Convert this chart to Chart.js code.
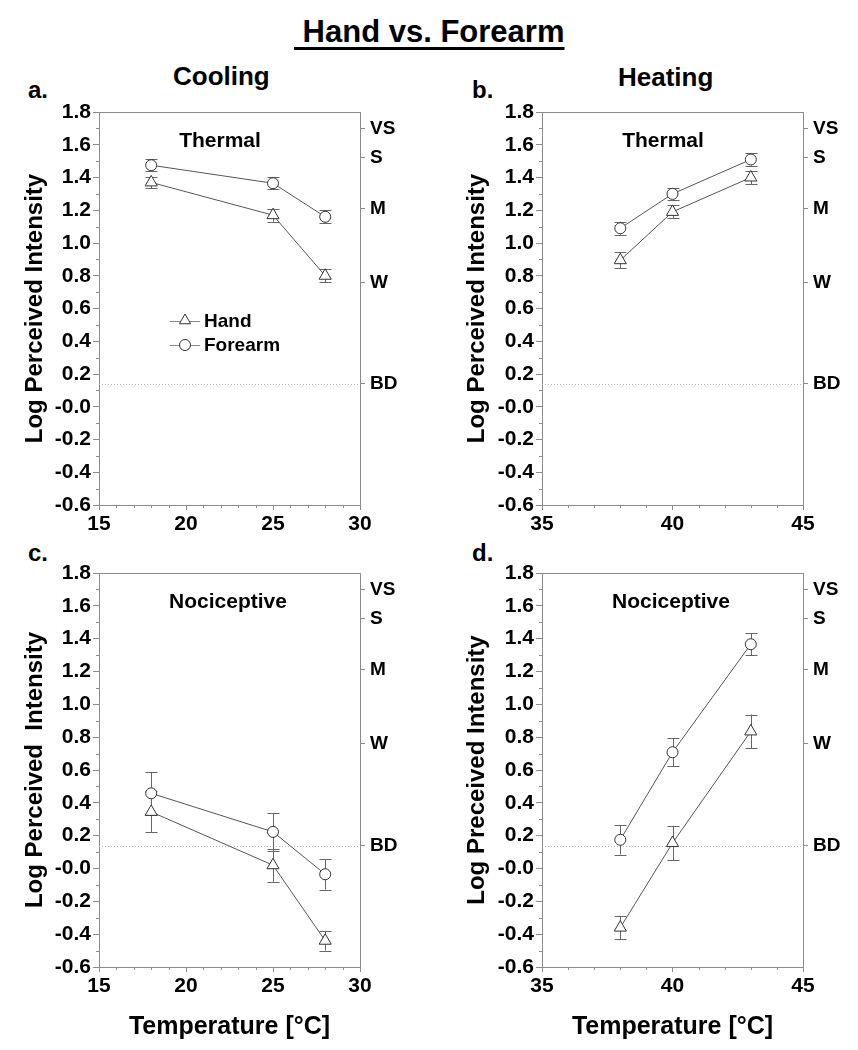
<!DOCTYPE html>
<html>
<head>
<meta charset="utf-8">
<title>Hand vs. Forearm</title>
<script src="https://cdn.jsdelivr.net/npm/chart.js@4/dist/chart.umd.min.js"></script>
<style>
  body { margin: 0; background: #fff; }
  #page { position: relative; width: 858px; height: 1050px; font-family: 'Liberation Sans', Arial, sans-serif; font-weight: bold; color: #000; }
  .lbl { position: absolute; white-space: pre; line-height: 1; }
  canvas { position: absolute; }
</style>
</head>
<body>
<div id="page">
  <div class="lbl" style="left:294px;top:16px;font-size:31px;text-decoration:underline;text-decoration-thickness:3px;text-underline-offset:5px;">&nbsp;Hand vs. Forearm</div>
  <div class="lbl" style="left:173px;top:63px;font-size:26px;">Cooling</div>
  <div class="lbl" style="left:618px;top:64px;font-size:26px;">Heating</div>
  <div class="lbl" style="left:28px;top:78px;font-size:24px;">a.</div>
  <div class="lbl" style="left:472px;top:78px;font-size:24px;">b.</div>
  <div class="lbl" style="left:28px;top:541px;font-size:24px;">c.</div>
  <div class="lbl" style="left:472px;top:541px;font-size:24px;">d.</div>

  <canvas id="panelA" width="429" height="460" style="left:0;top:90px"></canvas>
  <canvas id="panelB" width="429" height="460" style="left:429px;top:90px"></canvas>
  <canvas id="panelC" width="429" height="500" style="left:0;top:550px"></canvas>
  <canvas id="panelD" width="429" height="500" style="left:429px;top:550px"></canvas>
</div>

<script>
// temperatures (°C)
const coolTemps = [18, 25, 28];
const heatTemps = [38, 40, 43];

// cooling - thermal
const coolThermalHand = [1.37, 1.17, 0.80];
const coolThermalHandErr = [0.035, 0.04, 0.04];
const coolThermalForearm = [1.475, 1.365, 1.16];
const coolThermalForearmErr = [0.035, 0.035, 0.04];

// heating - thermal
const heatThermalHand = [0.895, 1.19, 1.40];
const heatThermalHandErr = [0.05, 0.04, 0.04];
const heatThermalForearm = [1.09, 1.30, 1.51];
const heatThermalForearmErr = [0.04, 0.035, 0.037];

// cooling - nociceptive
const coolNociHand = [0.345, 0.02, -0.44];
const coolNociHandErr = [0.125, 0.1, 0.06];
const coolNociForearm = [0.458, 0.223, -0.035];
const coolNociForearmErr = [0.13, 0.115, 0.093];

// heating - nociceptive
const heatNociHand = [-0.36, 0.155, 0.835];
const heatNociHandErr = [0.07, 0.105, 0.103];
const heatNociForearm = [0.175, 0.708, 1.366];
const heatNociForearmErr = [0.09, 0.085, 0.067];

// gLMS descriptors on the right axis
const lmsLabels = ["BD", "W", "M", "S", "VS"];
const lmsValues = [0.14, 0.76, 1.21, 1.52, 1.70];

const yMin = -0.6, yMax = 1.8;
const FONT = "'Liberation Sans', Arial, sans-serif";
const axisGray = "#8c8c8c";
const lineGray = "#555";
const markGray = "#333";

Chart.defaults.font.family = FONT;
Chart.defaults.font.weight = "bold";
Chart.defaults.color = "#000";

function toPoints(xs, ys) {
  return xs.map((x, i) => ({ x: x, y: ys[i] }));
}

function fmtY(v) {
  if (Math.abs(v) < 1e-9) return "-0.0";
  return v.toFixed(1);
}

// draws a marker like the datasets do (used by the inline legend)
function marker(ctx, style, x, y, r) {
  ctx.beginPath();
  if (style === "triangle") {
    let rad = 0;
    ctx.moveTo(x + Math.sin(rad) * r, y - Math.cos(rad) * r);
    rad += Math.PI * 2 / 3;
    ctx.lineTo(x + Math.sin(rad) * r, y - Math.cos(rad) * r);
    rad += Math.PI * 2 / 3;
    ctx.lineTo(x + Math.sin(rad) * r, y - Math.cos(rad) * r);
    ctx.closePath();
  } else {
    ctx.arc(x, y, r, 0, Math.PI * 2);
  }
  ctx.fillStyle = "#fff";
  ctx.fill();
  ctx.strokeStyle = markGray;
  ctx.lineWidth = 1;
  ctx.stroke();
}

const decorPlugin = {
  id: "decor",
  beforeDatasetsDraw(chart, args, opts) {
    const ctx = chart.ctx;
    const area = chart.chartArea;
    const xs = chart.scales.x, ys = chart.scales.y;
    ctx.save();

    // top frame line
    ctx.strokeStyle = axisGray;
    ctx.lineWidth = 1;
    ctx.beginPath();
    ctx.moveTo(area.left, Math.round(area.top) + 0.5);
    ctx.lineTo(area.right, Math.round(area.top) + 0.5);
    ctx.stroke();

    // minor ticks
    ctx.beginPath();
    ys.ticks.forEach((t, i) => {
      if (i % 2 === 1) {
        const py = Math.round(ys.getPixelForValue(t.value)) + 0.5;
        ctx.moveTo(area.left - 3, py);
        ctx.lineTo(area.left, py);
      }
    });
    xs.ticks.forEach((t) => {
      if (t.value % 5 !== 0) {
        const px = Math.round(xs.getPixelForValue(t.value)) + 0.5;
        ctx.moveTo(px, area.bottom);
        ctx.lineTo(px, area.bottom + 3);
      }
    });
    ctx.stroke();

    // barely detectable reference line
    const by = Math.round(ys.getPixelForValue(lmsValues[0])) + 0.5;
    ctx.strokeStyle = "#b5b5b5";
    ctx.setLineDash([1, 2]);
    ctx.beginPath();
    ctx.moveTo(area.left, by);
    ctx.lineTo(area.right, by);
    ctx.stroke();
    ctx.setLineDash([]);

    // error bars
    ctx.strokeStyle = "#666";
    chart.data.datasets.forEach((ds, di) => {
      const meta = chart.getDatasetMeta(di);
      meta.data.forEach((pt, i) => {
        const v = ds.data[i].y, e = ds.errors[i];
        const x = Math.round(pt.x) + 0.5;
        const y1 = ys.getPixelForValue(v + e);
        const y2 = ys.getPixelForValue(v - e);
        ctx.beginPath();
        ctx.moveTo(x, y1);
        ctx.lineTo(x, y2);
        ctx.moveTo(x - 6, Math.round(y1) + 0.5);
        ctx.lineTo(x + 6, Math.round(y1) + 0.5);
        ctx.moveTo(x - 6, Math.round(y2) + 0.5);
        ctx.lineTo(x + 6, Math.round(y2) + 0.5);
        ctx.stroke();
      });
    });
    ctx.restore();
  },
  afterDraw(chart, args, opts) {
    const ctx = chart.ctx;
    const area = chart.chartArea;
    ctx.save();
    ctx.fillStyle = "#000";
    ctx.font = "bold 21px " + FONT;
    ctx.textAlign = "center";
    ctx.textBaseline = "alphabetic";
    ctx.fillText(opts.label, area.left + opts.labelDx, area.top + 35);

    if (opts.legend) {
      ctx.font = "bold 19px " + FONT;
      ctx.textAlign = "left";
      ctx.textBaseline = "middle";
      const rows = [208.5, 233];
      chart.data.datasets.forEach((ds, di) => {
        const y = area.top + rows[di];
        const x0 = area.left + 71;
        ctx.strokeStyle = "#888";
        ctx.lineWidth = 1;
        ctx.beginPath();
        ctx.moveTo(x0, Math.round(y) + 0.5);
        ctx.lineTo(x0 + 30, Math.round(y) + 0.5);
        ctx.stroke();
        marker(ctx, ds.pointStyle, x0 + 15, y, ds.pointStyle === "triangle" ? 6.5 : 5.5);
        ctx.fillStyle = "#000";
        ctx.fillText(ds.label, x0 + 34, y + 1);
      });
    }
    ctx.restore();
  }
};

function makePanel(id, p) {
  const rightCol = p.col === 1;
  const bottomRow = p.row === 1;
  const leftW = rightCol ? 113 : 99;
  const rightW = rightCol ? 55 : 69;
  const xHeight = bottomRow ? 83 : 45;

  return new Chart(document.getElementById(id), {
    type: "scatter",
    data: {
      datasets: [
        {
          label: "Hand",
          data: toPoints(p.temps, p.hand),
          errors: p.handErr,
          showLine: true,
          borderColor: lineGray,
          borderWidth: 1,
          pointStyle: "triangle",
          pointRadius: 7,
          pointBackgroundColor: "#fff",
          pointBorderColor: markGray,
          pointBorderWidth: 1,
        },
        {
          label: "Forearm",
          data: toPoints(p.temps, p.forearm),
          errors: p.forearmErr,
          showLine: true,
          borderColor: lineGray,
          borderWidth: 1,
          pointStyle: "circle",
          pointRadius: 5.5,
          pointBackgroundColor: "#fff",
          pointBorderColor: markGray,
          pointBorderWidth: 1,
        },
      ],
    },
    options: {
      responsive: false,
      animation: false,
      devicePixelRatio: 1,
      layout: { padding: { top: bottomRow ? 23 : 22, left: 0, right: 0, bottom: 0 } },
      plugins: {
        legend: { display: false },
        tooltip: { enabled: false },
        decor: { label: p.label, labelDx: bottomRow ? 129 : 121, legend: p.legend },
      },
      scales: {
        x: {
          type: "linear",
          position: "bottom",
          min: p.xMin,
          max: p.xMax,
          afterFit: (s) => { s.height = xHeight; },
          border: { color: axisGray, width: 1 },
          grid: {
            drawOnChartArea: false,
            tickLength: 5,
            color: axisGray,
            tickColor: (c) => (c.tick && c.tick.value % 5 === 0 ? axisGray : "rgba(0,0,0,0)"),
          },
          ticks: {
            stepSize: 1,
            autoSkip: false,
            maxRotation: 0,
            padding: 2,
            font: { size: 21, weight: "bold" },
            color: "#000",
            callback: (v) => (v % 5 === 0 ? String(v) : ""),
          },
          title: {
            display: bottomRow,
            text: "Temperature [°C]",
            font: { size: 25, weight: "bold" },
            color: "#000",
            padding: { top: 0, bottom: 8 },
          },
        },
        y: {
          type: "linear",
          position: "left",
          min: yMin,
          max: yMax,
          afterFit: (s) => { s.width = leftW; },
          border: { color: axisGray, width: 1 },
          grid: {
            drawOnChartArea: false,
            tickLength: 6,
            color: axisGray,
            tickColor: (c) => (c.index % 2 === 0 ? axisGray : "rgba(0,0,0,0)"),
          },
          ticks: {
            stepSize: 0.1,
            autoSkip: false,
            padding: 2,
            font: { size: 21, weight: "bold" },
            color: "#000",
            callback: (v, i) => (i % 2 === 0 ? fmtY(v) : ""),
          },
          title: {
            display: true,
            text: p.yTitle,
            font: { size: 24, weight: "bold" },
            color: "#000",
            padding: { top: rightCol ? 34 : 21, bottom: 0 },
          },
        },
        y2: {
          type: "linear",
          position: "right",
          min: yMin,
          max: yMax,
          afterFit: (s) => { s.width = rightW; },
          afterBuildTicks: (s) => { s.ticks = lmsValues.map((v) => ({ value: v })); },
          border: { color: axisGray, width: 1 },
          grid: { drawOnChartArea: false, tickLength: 5, color: axisGray, tickColor: axisGray },
          ticks: {
            autoSkip: false,
            padding: 5,
            font: { size: 19, weight: "bold" },
            color: "#000",
            callback: (v, i) => lmsLabels[i],
          },
        },
      },
    },
    plugins: [decorPlugin],
  });
}

makePanel("panelA", {
  row: 0, col: 0, temps: coolTemps, xMin: 15, xMax: 30,
  hand: coolThermalHand, handErr: coolThermalHandErr,
  forearm: coolThermalForearm, forearmErr: coolThermalForearmErr,
  label: "Thermal", legend: true, yTitle: "Log Perceived Intensity",
});
makePanel("panelB", {
  row: 0, col: 1, temps: heatTemps, xMin: 35, xMax: 45,
  hand: heatThermalHand, handErr: heatThermalHandErr,
  forearm: heatThermalForearm, forearmErr: heatThermalForearmErr,
  label: "Thermal", legend: false, yTitle: "Log Perceived Intensity",
});
makePanel("panelC", {
  row: 1, col: 0, temps: coolTemps, xMin: 15, xMax: 30,
  hand: coolNociHand, handErr: coolNociHandErr,
  forearm: coolNociForearm, forearmErr: coolNociForearmErr,
  label: "Nociceptive", legend: false, yTitle: "Log Perceived  Intensity",
});
makePanel("panelD", {
  row: 1, col: 1, temps: heatTemps, xMin: 35, xMax: 45,
  hand: heatNociHand, handErr: heatNociHandErr,
  forearm: heatNociForearm, forearmErr: heatNociForearmErr,
  label: "Nociceptive", legend: false, yTitle: "Log Preceived Intensity",
});
</script>
</body>
</html>
